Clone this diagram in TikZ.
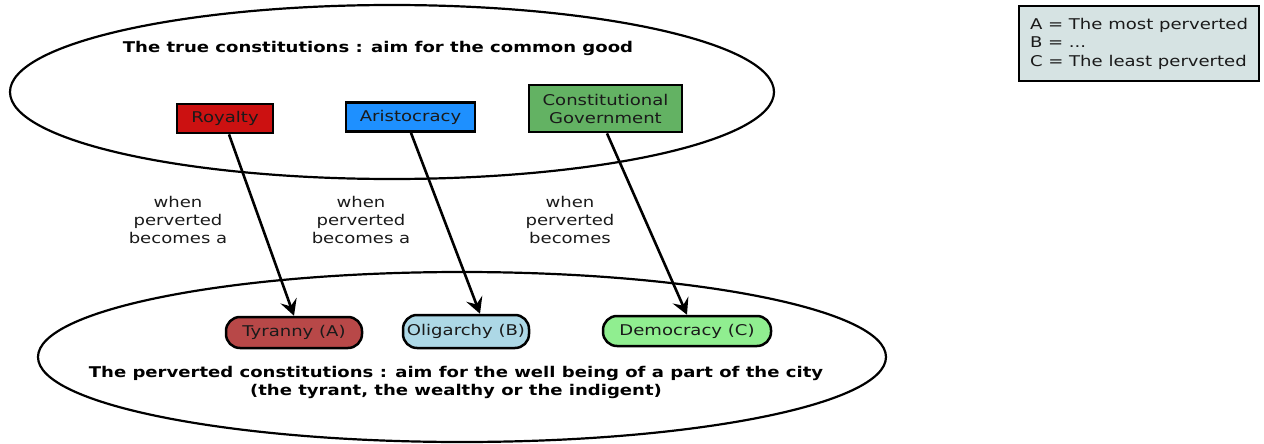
\documentclass[tikz,border=0pt]{standalone}
\usepackage{fontspec}
\setmainfont[FakeStretch=1.22]{DejaVu Sans}
\usetikzlibrary{arrows.meta}
\definecolor{royal}{HTML}{CC1111}
\definecolor{aristo}{HTML}{1E90FF}
\definecolor{constit}{HTML}{63B263}
\definecolor{tyran}{HTML}{B84848}
\definecolor{oligar}{HTML}{ADD8E6}
\definecolor{democ}{HTML}{90EE90}
\definecolor{legendbg}{HTML}{D6E3E3}
\definecolor{ink}{HTML}{1A1A1A}
\tikzset{
  good/.style={draw, line width=2.8pt, minimum height=29pt, inner sep=3pt, align=center, text=ink, font=\fontsize{14.8}{18}\selectfont},
  bad/.style={draw, line width=2.5pt, rounded corners=14pt, minimum height=31pt, inner sep=0pt, text=ink, font=\fontsize{14.8}{18}\selectfont},
  realm/.style={draw, line width=2.2pt},
  turn/.style={-{Stealth[length=16pt,width=17pt,inset=6pt]}, line width=2.6pt},
  note/.style={align=center, text=ink, font=\fontsize{14.8}{18}\selectfont},
  title/.style={align=center, font=\bfseries\fontsize{14.8}{18}\selectfont},
}
\begin{document}
\begin{tikzpicture}[x=1pt,y=-1pt]
\useasboundingbox (0,0) rectangle (1264,444);
% the two families of constitutions
\draw[realm] (392,92) ellipse [x radius=382, y radius=87];
\draw[realm] (462,357) ellipse [x radius=424, y radius=85];
\node[title] (toptitle) at (378,48) {The true constitutions : aim for the common good};
\node[title] (bottitle) at (456,382) {The perverted constitutions : aim for the well being of a part of the city\\(the tyrant, the wealthy or the indigent)};
% true forms
\node[good, fill=royal, minimum width=96pt] (royalty) at (225,118.5) {Royalty};
\node[good, fill=aristo, minimum width=129pt] (aristocracy) at (410.5,117) {Aristocracy};
\node[good, fill=constit, minimum width=153pt, minimum height=47pt] (constitutional) at (605.5,108.5) {Constitutional\\Government};
% perverted forms
\node[bad, fill=tyran, minimum width=136pt] (tyranny) at (294,332.5) {Tyranny (A)};
\node[bad, fill=oligar, minimum width=126pt, minimum height=33pt] (oligarchy) at (466,331.5) {Oligarchy (B)};
\node[bad, fill=democ, minimum width=168pt, minimum height=30pt] (democracy) at (687,331) {Democracy (C)};
% perversion arrows
\draw[turn] (royalty.south -| 229,0) -- (tyranny.north -| 294,0);
\draw[turn] (aristocracy.south -| 411,0) -- (oligarchy.north -| 480,0);
\draw[turn] (constitutional.south -| 607,0) -- (democracy.north -| 687,0);
\node[note] (lab1) at (178,220) {when\\perverted\\becomes a};
\node[note] (lab2) at (361,220) {when\\perverted\\becomes a};
\node[note] (lab3) at (570,220) {when\\perverted\\becomes};
% legend
\node[draw, line width=2.5pt, fill=legendbg, minimum width=240pt, minimum height=75pt, align=left, text=ink, font=\fontsize{14.8}{18.5}\selectfont] (legend) at (1139,43.5) {A = The most perverted\\B = ...\\C = The least perverted};
\end{tikzpicture}
\end{document}
